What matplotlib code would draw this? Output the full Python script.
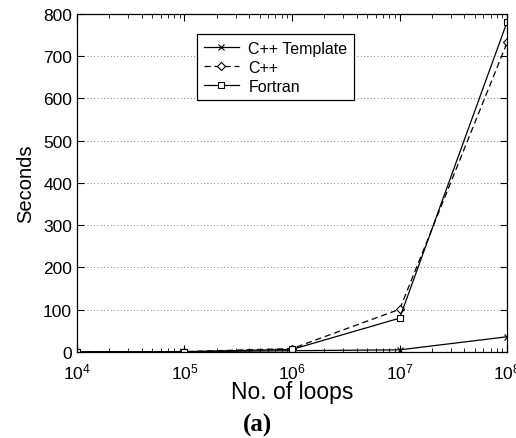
import matplotlib
matplotlib.use("Agg")
import matplotlib.pyplot as plt
from matplotlib.ticker import LogLocator, NullFormatter

plt.rcParams['font.family'] = ['Liberation Sans', 'DejaVu Sans']

loops = [1e4, 1e5, 1e6, 1e7, 1e8]
cpp_template = [0.05, 0.4, 3, 5, 36]
cpp = [0.1, 0.8, 8, 101, 733]
fortran = [0.1, 0.7, 6, 80, 782]
yticks = [0, 100, 200, 300, 400, 500, 600, 700, 800]

fig = plt.figure(figsize=(5.16, 4.39), dpi=100)
ax = fig.add_axes([0.149, 0.196, 0.834, 0.770])

ax.plot(loops, cpp_template, '-', color='black', lw=0.9, marker='x', ms=4, mew=0.8,
        label='C++ Template')
ax.plot(loops, cpp, '--', color='black', lw=0.9, marker='D', ms=4, mfc='white', mew=0.8,
        dashes=(5, 3), label='C++')
ax.plot(loops, fortran, '-', color='black', lw=0.9, marker='s', ms=4.5, mfc='white', mew=0.8,
        label='Fortran')

ax.set_xscale('log')
ax.set_xlim(1e4, 1e8)
ax.set_ylim(0, 800)
ax.set_yticks(yticks)
ax.set_yticklabels([str(v) for v in yticks])
ax.xaxis.set_minor_locator(LogLocator(base=10, subs=range(2, 10)))
ax.xaxis.set_minor_formatter(NullFormatter())

ax.tick_params(which='both', direction='in', top=True, right=True, labelsize=12.5)
ax.tick_params(axis='x', which='major', pad=7)
ax.tick_params(which='major', length=5)
ax.tick_params(which='minor', length=3)
ax.yaxis.grid(True, linestyle=(0, (1, 3)), color='#555555', lw=0.6)
ax.set_axisbelow(True)
for s in ax.spines.values():
    s.set_linewidth(0.9)

ax.set_xlabel('No. of loops', fontsize=16.5, labelpad=-1)
ax.set_ylabel('Seconds', fontsize=14.5, labelpad=6)

leg = ax.legend(loc='upper left', bbox_to_anchor=(0.28, 0.94), fontsize=11.5,
                frameon=True, fancybox=False, edgecolor='black', framealpha=1,
                handlelength=2.2, borderpad=0.4, labelspacing=0.25, handletextpad=0.6,
                borderaxespad=0)
leg.get_frame().set_linewidth(0.9)

fig.text(0.5, 0.03, '(a)', ha='center', va='center', fontsize=18, fontweight='bold',
         family=['Liberation Serif', 'DejaVu Serif'])

fig.savefig('out.png', dpi=100)
